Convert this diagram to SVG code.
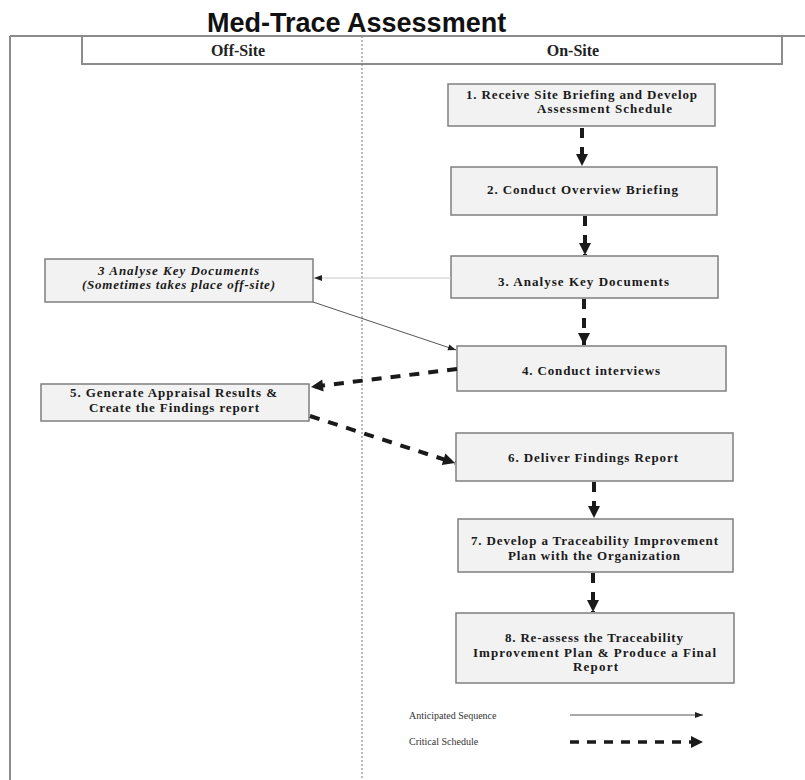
<svg xmlns="http://www.w3.org/2000/svg" width="805" height="780" viewBox="0 0 805 780">
<style>
.box{fill:#f2f2f2;stroke:#7f7f7f;stroke-width:1.5}
.t{font-family:"Liberation Serif","Times New Roman",serif;font-weight:bold;font-size:13px;fill:#1a1a1a;text-anchor:middle}
.ti{font-style:italic}
.hd{font-family:"Liberation Serif","Times New Roman",serif;font-weight:bold;font-size:16px;fill:#222;text-anchor:middle}
.lg{font-family:"Liberation Serif","Times New Roman",serif;font-size:10px;fill:#333}
.crit{stroke:#1a1a1a;stroke-width:4;stroke-dasharray:10 9;fill:none}
.seq{stroke:#555;stroke-width:1;fill:none}
</style>
<defs>
<marker id="ah" markerUnits="userSpaceOnUse" markerWidth="14" markerHeight="14" viewBox="0 0 14 14" refX="13" refY="7" orient="auto">
<path d="M1,1 L13,7 L1,13 Z" fill="#1a1a1a"/>
</marker>
<marker id="as" markerUnits="userSpaceOnUse" markerWidth="10" markerHeight="10" viewBox="0 0 10 10" refX="9" refY="5" orient="auto">
<path d="M1,2 L9,5 L1,8 Z" fill="#222"/>
</marker>
</defs>

<text x="207" y="32" font-family="'Liberation Sans',Arial,sans-serif" font-weight="bold" font-size="27" fill="#111">Med-Trace Assessment</text>

<g id="frame">
<line x1="10" y1="36" x2="805" y2="36" stroke="#8c8c8c" stroke-width="2"/>
<line x1="10" y1="36" x2="10" y2="780" stroke="#8c8c8c" stroke-width="2"/>
<rect x="82" y="36" width="700" height="28" fill="#fff" stroke="#8c8c8c" stroke-width="2"/>
<line x1="362" y1="36" x2="362" y2="780" stroke="#777" stroke-width="1" stroke-dasharray="2 2"/>
<text class="hd" x="238" y="56">Off-Site</text>
<text class="hd" x="573" y="56">On-Site</text>
</g>

<g id="n1">
<rect class="box" x="448" y="84" width="267" height="42"/>
<text class="t" x="581.5" y="99" textLength="231">1. Receive Site Briefing and Develop</text>
<text class="t" x="604.5" y="113" textLength="135">Assessment Schedule</text>
</g>
<g id="n2">
<rect class="box" x="451" y="167" width="266" height="48"/>
<text class="t" x="582.5" y="194" textLength="191">2. Conduct Overview Briefing</text>
</g>
<g id="n3">
<rect class="box" x="451" y="256" width="267" height="42"/>
<text class="t" x="583.5" y="286" textLength="171">3. Analyse Key Documents</text>
</g>
<g id="n3a">
<rect class="box" x="45" y="259" width="268" height="43"/>
<text class="t ti" x="178.5" y="275" textLength="161">3 Analyse Key Documents</text>
<text class="t ti" x="178.5" y="289" textLength="193">(Sometimes takes place off-site)</text>
</g>
<g id="n4">
<rect class="box" x="457" y="346" width="269" height="45"/>
<text class="t" x="591" y="375" textLength="138">4. Conduct interviews</text>
</g>
<g id="n5">
<rect class="box" x="41" y="384" width="268" height="37"/>
<text class="t" x="173.5" y="397" textLength="207">5. Generate Appraisal Results &amp;</text>
<text class="t" x="174" y="412" textLength="170">Create the Findings report</text>
</g>
<g id="n6">
<rect class="box" x="456" y="433" width="277" height="48"/>
<text class="t" x="593" y="462" textLength="170">6. Deliver Findings Report</text>
</g>
<g id="n7">
<rect class="box" x="458" y="519" width="275" height="53"/>
<text class="t" x="594.5" y="545" textLength="247">7. Develop a Traceability Improvement</text>
<text class="t" x="594" y="560" textLength="172">Plan with the Organization</text>
</g>
<g id="n8">
<rect class="box" x="456" y="613" width="278" height="70"/>
<text class="t" x="594" y="642" textLength="178">8. Re-assess the Traceability</text>
<text class="t" x="594.5" y="657" textLength="243">Improvement Plan &amp; Produce a Final</text>
<text class="t" x="595.5" y="671" textLength="45">Report</text>
</g>

<g id="connectors">
<line class="crit" x1="582" y1="128" x2="582" y2="166" marker-end="url(#ah)"/>
<line class="crit" x1="585" y1="216" x2="585" y2="255" marker-end="url(#ah)"/>
<line class="crit" x1="584" y1="299" x2="584" y2="345" marker-end="url(#ah)"/>
<line class="crit" x1="457" y1="369" x2="311" y2="387" marker-end="url(#ah)"/>
<line class="crit" x1="310" y1="416" x2="455" y2="463" marker-end="url(#ah)"/>
<line class="crit" x1="594" y1="482" x2="594" y2="518" marker-end="url(#ah)"/>
<line class="crit" x1="593" y1="573" x2="593" y2="612" marker-end="url(#ah)"/>
<line x1="451" y1="278" x2="314" y2="278" stroke="#c8c8c8" stroke-width="1" marker-end="url(#as)"/>
<line class="seq" x1="313" y1="302" x2="456" y2="350" marker-end="url(#as)"/>
</g>

<g id="legend">
<text class="lg" x="409" y="719">Anticipated Sequence</text>
<text class="lg" x="409" y="745">Critical Schedule</text>
<line class="seq" x1="570" y1="715" x2="703" y2="715" stroke="#222" marker-end="url(#as)"/>
<line x1="570" y1="742" x2="703" y2="742" stroke="#1a1a1a" stroke-width="3.5" stroke-dasharray="9 8" marker-end="url(#ah)"/>
</g>
</svg>
